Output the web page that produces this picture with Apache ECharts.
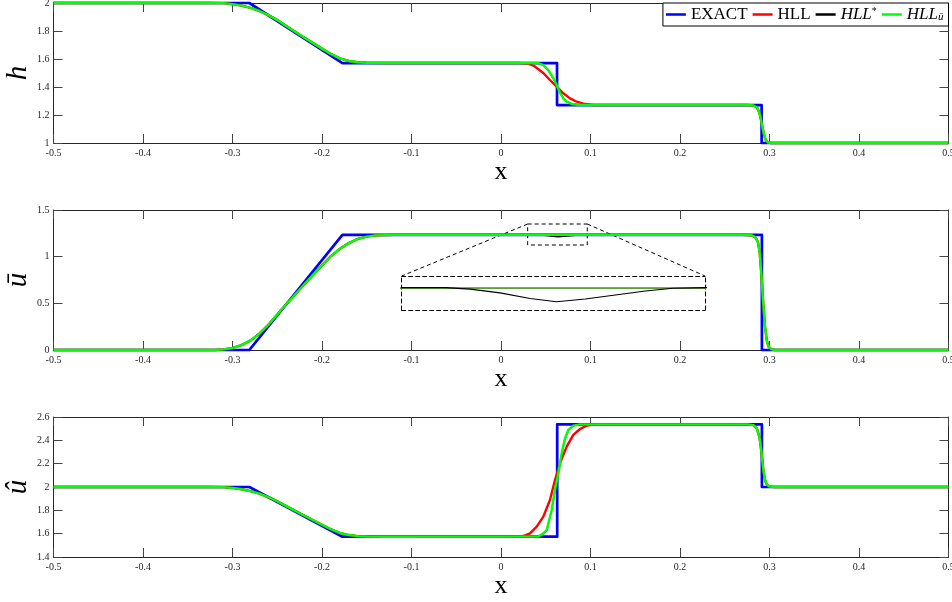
<!DOCTYPE html>
<html><head><meta charset="utf-8">
<script src="https://cdn.jsdelivr.net/npm/echarts@6/dist/echarts.min.js"></script>
<style>html,body{margin:0;padding:0;background:#fff}#c{width:952px;height:602px}</style>
</head><body><div id="c"></div>
<script>
// ---------- data ----------
const xTicks = [-0.5, 0.5, 0.1];
const hTicks = [1, 2, 0.2];
const uTicks = [0, 1.5, 0.5];
const wTicks = [1.4, 2.6, 0.2];

// h panel
const hExactX = [-0.5, -0.2812, -0.1772, 0.0626, 0.0626, 0.2912, 0.2912, 0.5];
const hExactY = [2, 2, 1.571, 1.571, 1.271, 1.271, 1, 1];
const hHllX = [-0.5, -0.33, -0.31, -0.30, -0.29, -0.28, -0.27, -0.26, -0.25, -0.24, -0.22, -0.20, -0.19, -0.18, -0.17, -0.16, -0.15, -0.13, 0.02, 0.03, 0.037, 0.0473, 0.0547, 0.0622, 0.0696, 0.0771, 0.0846, 0.092, 0.1031, 0.275, 0.282, 0.286, 0.289, 0.2913, 0.2935, 0.2955, 0.298, 0.302, 0.5];
const hHllY = [2, 2, 1.999, 1.992, 1.981, 1.965, 1.943, 1.914, 1.878, 1.835, 1.754, 1.674, 1.636, 1.604, 1.586, 1.577, 1.573, 1.571, 1.571, 1.567, 1.55, 1.5, 1.45, 1.402, 1.355, 1.319, 1.295, 1.281, 1.271, 1.271, 1.268, 1.255, 1.21, 1.14, 1.07, 1.025, 1.005, 1.0, 1.0];
const hStarX = [-0.5, -0.33, -0.31, -0.30, -0.29, -0.28, -0.27, -0.26, -0.25, -0.24, -0.22, -0.20, -0.19, -0.18, -0.17, -0.16, -0.15, -0.13, 0.0417, 0.0473, 0.0529, 0.0585, 0.0622, 0.0659, 0.0696, 0.0734, 0.079, 0.0883, 0.275, 0.282, 0.286, 0.289, 0.2913, 0.2935, 0.2955, 0.298, 0.302, 0.5];
const hStarY = [2, 2, 1.999, 1.992, 1.981, 1.965, 1.943, 1.914, 1.878, 1.835, 1.754, 1.674, 1.636, 1.604, 1.586, 1.577, 1.573, 1.571, 1.571, 1.555, 1.518, 1.46, 1.414, 1.361, 1.322, 1.297, 1.28, 1.271, 1.271, 1.268, 1.255, 1.21, 1.14, 1.07, 1.025, 1.005, 1.0, 1.0];
const hUbX = [-0.5, -0.33, -0.31, -0.30, -0.29, -0.28, -0.27, -0.26, -0.25, -0.24, -0.22, -0.20, -0.19, -0.18, -0.17, -0.16, -0.15, -0.13, 0.0417, 0.0473, 0.0529, 0.0585, 0.0622, 0.0659, 0.0696, 0.0734, 0.079, 0.0883, 0.275, 0.282, 0.286, 0.289, 0.2913, 0.2935, 0.2955, 0.298, 0.302, 0.5];
const hUbY = [2, 2, 1.999, 1.992, 1.981, 1.965, 1.943, 1.914, 1.878, 1.835, 1.754, 1.674, 1.636, 1.604, 1.586, 1.577, 1.573, 1.571, 1.571, 1.557, 1.521, 1.462, 1.414, 1.359, 1.319, 1.295, 1.279, 1.271, 1.271, 1.268, 1.255, 1.21, 1.14, 1.07, 1.025, 1.005, 1.0, 1.0];

// u-bar panel
const uExactX = [-0.5, -0.2812, -0.1772, 0.2915, 0.2915, 0.5];
const uExactY = [0, 0, 1.233, 1.233, 0, 0];
const uHllX = [-0.5, -0.32, -0.31, -0.30, -0.29, -0.28, -0.27, -0.26, -0.25, -0.24, -0.23, -0.22, -0.21, -0.20, -0.19, -0.18, -0.17, -0.16, -0.15, -0.14, -0.12, 0.27, 0.28, 0.284, 0.287, 0.289, 0.291, 0.293, 0.295, 0.297, 0.299, 0.302, 0.306, 0.5];
const uHllY = [0, 0, 0.007, 0.022, 0.052, 0.10, 0.175, 0.27, 0.38, 0.49, 0.595, 0.70, 0.805, 0.905, 1.005, 1.085, 1.145, 1.19, 1.215, 1.228, 1.233, 1.233, 1.229, 1.21, 1.16, 1.05, 0.8, 0.5, 0.25, 0.1, 0.035, 0.01, 0, 0];
const uStarX = [-0.5, -0.32, -0.31, -0.30, -0.29, -0.28, -0.27, -0.26, -0.25, -0.24, -0.23, -0.22, -0.21, -0.20, -0.19, -0.18, -0.17, -0.16, -0.15, -0.14, -0.12, 0.0395, 0.0448, 0.0514, 0.058, 0.0638, 0.0701, 0.0767, 0.0833, 0.0894, 0.0964, 0.27, 0.28, 0.284, 0.287, 0.289, 0.291, 0.293, 0.295, 0.297, 0.299, 0.302, 0.306, 0.5];
const uStarY = [0, 0, 0.007, 0.022, 0.052, 0.10, 0.175, 0.27, 0.38, 0.49, 0.595, 0.70, 0.805, 0.905, 1.005, 1.085, 1.145, 1.19, 1.215, 1.228, 1.233, 1.233, 1.231, 1.2255, 1.2176, 1.213, 1.2169, 1.2226, 1.2283, 1.2322, 1.233, 1.233, 1.229, 1.21, 1.16, 1.05, 0.8, 0.5, 0.25, 0.1, 0.035, 0.01, 0, 0];
const uUbX = [-0.5, -0.32, -0.31, -0.30, -0.29, -0.28, -0.27, -0.26, -0.25, -0.24, -0.23, -0.22, -0.21, -0.20, -0.19, -0.18, -0.17, -0.16, -0.15, -0.14, -0.12, 0.27, 0.28, 0.284, 0.287, 0.289, 0.291, 0.293, 0.295, 0.297, 0.299, 0.302, 0.306, 0.5];
const uUbY = [0, 0, 0.007, 0.022, 0.052, 0.10, 0.175, 0.27, 0.38, 0.49, 0.595, 0.70, 0.805, 0.905, 1.005, 1.085, 1.145, 1.19, 1.215, 1.228, 1.233, 1.233, 1.229, 1.21, 1.16, 1.05, 0.8, 0.5, 0.25, 0.1, 0.035, 0.01, 0, 0];
const zoomBoxX = [0.0298, 0.0964];
const zoomBoxY = [1.125, 1.35];
const insetX = [0.0298, 0.0964];
const insetY = [1.2012, 1.2497];

// u-hat panel
const wExactX = [-0.5, -0.2812, -0.1772, 0.0628, 0.0628, 0.2915, 0.2915, 0.5];
const wExactY = [2, 2, 1.574, 1.574, 2.537, 2.537, 2.0, 2.0];
const wHllX = [-0.5, -0.33, -0.31, -0.30, -0.29, -0.28, -0.27, -0.26, -0.25, -0.24, -0.22, -0.20, -0.19, -0.18, -0.17, -0.16, -0.15, -0.13, 0.0212, 0.027, 0.0324, 0.0399, 0.0473, 0.0547, 0.0603, 0.0659, 0.0734, 0.0808, 0.0883, 0.0958, 0.1069, 0.275, 0.282, 0.286, 0.289, 0.291, 0.293, 0.295, 0.297, 0.300, 0.305, 0.5];
const wHllY = [2, 2, 1.999, 1.992, 1.981, 1.965, 1.943, 1.914, 1.878, 1.836, 1.756, 1.676, 1.638, 1.606, 1.588, 1.579, 1.576, 1.574, 1.575, 1.585, 1.603, 1.66, 1.746, 1.889, 2.06, 2.203, 2.346, 2.446, 2.497, 2.526, 2.537, 2.537, 2.53, 2.5, 2.42, 2.3, 2.15, 2.06, 2.02, 2.005, 2.0, 2.0];
const wStarX = [-0.5, -0.33, -0.31, -0.30, -0.29, -0.28, -0.27, -0.26, -0.25, -0.24, -0.22, -0.20, -0.19, -0.18, -0.17, -0.16, -0.15, -0.13, 0.0417, 0.0465, 0.0511, 0.0566, 0.0603, 0.064, 0.0678, 0.0715, 0.0752, 0.0808, 0.0883, 0.275, 0.282, 0.286, 0.289, 0.291, 0.293, 0.295, 0.297, 0.300, 0.305, 0.5];
const wStarY = [2, 2, 1.999, 1.992, 1.981, 1.965, 1.943, 1.914, 1.878, 1.836, 1.756, 1.676, 1.638, 1.606, 1.588, 1.579, 1.576, 1.574, 1.576, 1.596, 1.628, 1.8, 1.97, 2.113, 2.285, 2.414, 2.487, 2.525, 2.537, 2.537, 2.53, 2.5, 2.42, 2.3, 2.15, 2.06, 2.02, 2.005, 2.0, 2.0];
const wUbX = [-0.5, -0.33, -0.31, -0.30, -0.29, -0.28, -0.27, -0.26, -0.25, -0.24, -0.22, -0.20, -0.19, -0.18, -0.17, -0.16, -0.15, -0.13, 0.0417, 0.0465, 0.0511, 0.0566, 0.0603, 0.064, 0.0678, 0.0715, 0.0752, 0.0808, 0.0883, 0.275, 0.282, 0.286, 0.289, 0.291, 0.293, 0.295, 0.297, 0.300, 0.305, 0.5];
const wUbY = [2, 2, 1.999, 1.992, 1.981, 1.965, 1.943, 1.914, 1.878, 1.836, 1.756, 1.676, 1.638, 1.606, 1.588, 1.579, 1.576, 1.574, 1.576, 1.598, 1.631, 1.803, 1.974, 2.117, 2.289, 2.417, 2.489, 2.526, 2.537, 2.537, 2.53, 2.5, 2.42, 2.3, 2.15, 2.06, 2.02, 2.005, 2.0, 2.0];

const seriesNames = ['EXACT', 'HLL', 'HLL*', 'HLLu'];
const yNames = ['h', 'ū', 'û'];
const xName = 'x';

// ---------- chart ----------
const FONT = '"Liberation Serif", "DejaVu Serif", serif';
const AX = '#262626';
const COLORS = ['#0000ff', '#ff0000', '#000000', '#00ff00'];
const WIDTHS = [2.7, 2.4, 1.4, 2.4];
const pts = (xs, ys) => xs.map((x, i) => [x, ys[i]]);
const fmt = v => String(+(+v).toFixed(2));

const panels = [
  {top: 3, yr: hTicks, sets: [[hExactX, hExactY], [hHllX, hHllY], [hStarX, hStarY], [hUbX, hUbY]]},
  {top: 210, yr: uTicks, sets: [[uExactX, uExactY], [uHllX, uHllY], [uStarX, uStarY], [uUbX, uUbY]]},
  {top: 417, yr: wTicks, sets: [[wExactX, wExactY], [wHllX, wHllY], [wStarX, wStarY], [wUbX, wUbY]]}
];

const grid = [], xAxis = [], yAxis = [], series = [];
panels.forEach((p, g) => {
  grid.push({left: 53.5, right: 3.5, top: p.top, height: 140, outerBoundsMode: 'none', containLabel: false});
  const tickStyle = {show: true, inside: true, length: 9, lineStyle: {color: '#444', width: 1}};
  const lineStyle = {show: true, onZero: false, lineStyle: {color: AX, width: 1}};
  xAxis.push({type: 'value', gridIndex: g, position: 'bottom', min: xTicks[0], max: xTicks[1], interval: xTicks[2],
    axisLine: lineStyle, axisTick: tickStyle, splitLine: {show: false},
    axisLabel: {show: true, margin: 5, fontFamily: FONT, fontSize: 10, color: AX, formatter: fmt, showMinLabel: true, showMaxLabel: true},
    name: xName, nameLocation: 'middle', nameGap: 27,
    nameTextStyle: {fontFamily: FONT, fontSize: 26, color: '#000', verticalAlign: 'middle'}});
  xAxis.push({type: 'value', gridIndex: g, position: 'top', min: xTicks[0], max: xTicks[1], interval: xTicks[2],
    axisLine: lineStyle, axisTick: tickStyle, splitLine: {show: false}, axisLabel: {show: false}});
  yAxis.push({type: 'value', gridIndex: g, position: 'left', min: p.yr[0], max: p.yr[1], interval: p.yr[2],
    axisLine: lineStyle, axisTick: tickStyle, splitLine: {show: false},
    axisLabel: {show: true, margin: 4, fontFamily: FONT, fontSize: 10, color: AX, formatter: fmt, showMinLabel: true, showMaxLabel: true},
    name: yNames[g], nameLocation: 'middle', nameGap: 35, nameRotate: 90, nameMoveOverlap: false,
    nameTextStyle: {fontFamily: FONT, fontSize: 29, fontStyle: 'italic', color: '#000', verticalAlign: 'middle'}});
  yAxis.push({type: 'value', gridIndex: g, position: 'right', min: p.yr[0], max: p.yr[1], interval: p.yr[2],
    axisLine: lineStyle, axisTick: tickStyle, splitLine: {show: false}, axisLabel: {show: false}});
  p.sets.forEach((s, k) => {
    const ser = {type: 'line', name: seriesNames[k], xAxisIndex: 2 * g, yAxisIndex: 2 * g,
      data: pts(s[0], s[1]), showSymbol: false, symbol: 'none', clip: false, z: 2 + k,
      lineStyle: {color: COLORS[k], width: WIDTHS[k], join: 'round'}, itemStyle: {color: COLORS[k]}};
    if (g === 1 && k === 0) {
      ser.markArea = {silent: true, itemStyle: {color: 'rgba(0,0,0,0)', borderColor: '#000', borderWidth: 1, borderType: [4, 3]},
        data: [[{coord: [zoomBoxX[0], zoomBoxY[1]]}, {coord: [zoomBoxX[1], zoomBoxY[0]]}]]};
    }
    series.push(ser);
  });
});

// inset
grid.push({left: 401.7, top: 276, width: 303.3, height: 34, outerBoundsMode: 'none', containLabel: false});
const dashLine = {show: true, onZero: false, lineStyle: {color: '#000', width: 1, type: [4, 3]}};
['bottom', 'top'].forEach(pos => xAxis.push({type: 'value', gridIndex: 3, position: pos, min: insetX[0], max: insetX[1],
  axisLine: dashLine, axisTick: {show: false}, axisLabel: {show: false}, splitLine: {show: false}}));
['left', 'right'].forEach(pos => yAxis.push({type: 'value', gridIndex: 3, position: pos, min: insetY[0], max: insetY[1],
  axisLine: dashLine, axisTick: {show: false}, axisLabel: {show: false}, splitLine: {show: false}}));
[[uExactX, uExactY, 0], [uHllX, uHllY, 1], [uStarX, uStarY, 2], [uUbX, uUbY, 3]].forEach(s => {
  series.push({type: 'line', name: seriesNames[s[2]], xAxisIndex: 6, yAxisIndex: 6, data: pts(s[0], s[1]),
    showSymbol: false, symbol: 'none', clip: true, z: 10 + (s[2] === 2 ? 5 : s[2]),
    lineStyle: {color: COLORS[s[2]], width: s[2] === 2 ? 1.2 : 1.5}, itemStyle: {color: COLORS[s[2]]}});
});

const chart = echarts.init(document.getElementById('c'), null, {renderer: 'canvas'});
chart.setOption({
  animation: false,
  backgroundColor: '#fff',
  grid, xAxis, yAxis, series,
  legend: {
    data: seriesNames, right: 3.5, top: 3, orient: 'horizontal',
    backgroundColor: '#fff', borderColor: '#000', borderWidth: 1, borderRadius: 0,
    padding: [3, 5, 3, 3], itemGap: 5, itemWidth: 20, itemHeight: 2.5, icon: 'rect',
    textStyle: {fontFamily: FONT, fontSize: 17, color: '#000',
      rich: {it: {fontFamily: FONT, fontSize: 17, fontStyle: 'italic', color: '#000'},
             sup: {fontFamily: FONT, fontSize: 10, color: '#000', verticalAlign: 'top', padding: [0, 0, 6, 0]},
             sub: {fontFamily: FONT, fontSize: 11, fontStyle: 'italic', color: '#000', verticalAlign: 'bottom', padding: [6, 0, 0, 0]}}},
    formatter: n => n === 'HLL*' ? '{it|HLL}{sup|*}' : (n === 'HLLu' ? '{it|HLL}{sub|ū}' : n)
  }
});

const a = chart.convertToPixel({xAxisIndex: 2, yAxisIndex: 2}, [zoomBoxX[0], zoomBoxY[1]]);
const b = chart.convertToPixel({xAxisIndex: 2, yAxisIndex: 2}, [zoomBoxX[1], zoomBoxY[1]]);
const c = chart.convertToPixel({xAxisIndex: 6, yAxisIndex: 6}, [insetX[0], insetY[1]]);
const d = chart.convertToPixel({xAxisIndex: 6, yAxisIndex: 6}, [insetX[1], insetY[1]]);
const dash = {stroke: '#000', lineWidth: 1, lineDash: [4, 3]};
chart.setOption({graphic: [
  {type: 'line', silent: true, shape: {x1: a[0], y1: a[1], x2: c[0], y2: c[1]}, style: dash},
  {type: 'line', silent: true, shape: {x1: b[0], y1: b[1], x2: d[0], y2: d[1]}, style: dash}
]});
</script></body></html>
